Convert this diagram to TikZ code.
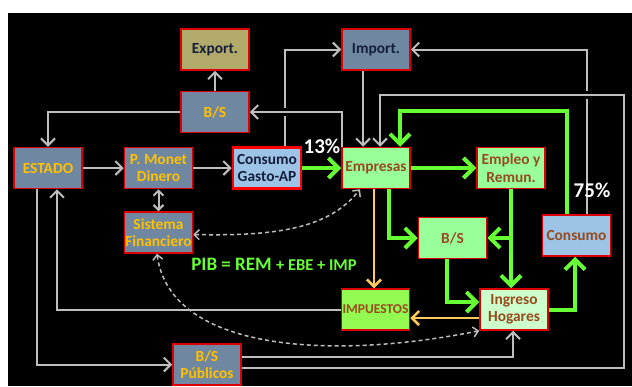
\documentclass[tikz,border=0pt]{standalone}
\usepackage{fontspec}
\setmainfont{Carlito}
\usepackage{xcolor}
\usepackage{tikz}
\usetikzlibrary{positioning,calc,arrows.meta,backgrounds}
\definecolor{GrisAzul}{RGB}{111,135,160}
\definecolor{Oliva}{RGB}{178,170,106}
\definecolor{AzulClaro}{RGB}{157,195,230}
\definecolor{VerdeClaro}{RGB}{153,255,153}
\definecolor{VerdeImp}{RGB}{146,250,80}
\definecolor{VerdePalido}{RGB}{204,255,204}
\definecolor{Amarillo}{RGB}{255,192,0}
\definecolor{Marron}{RGB}{150,75,30}
\definecolor{Marino}{RGB}{20,30,60}
\definecolor{GrisLinea}{RGB}{190,190,190}
\definecolor{VerdeFlujo}{RGB}{102,255,51}
\definecolor{Naranja}{RGB}{255,200,90}
\definecolor{BordeRojo}{RGB}{220,0,0}

\begin{document}
\begin{tikzpicture}[
        x=1pt, y=-1pt,
        % --- ESTILO COMUN ---
        common/.style={
            rectangle,
            draw=BordeRojo,
            line width=1.5pt,
            minimum width=68pt,
            minimum height=41pt,
            inner sep=0pt,
            align=center,
            font=\bfseries\fontsize{15.4}{17.5}\selectfont
        },
        % Sector publico (gris azul, texto amarillo)
        state_node/.style={common, fill=GrisAzul, text=Amarillo},
        % Comercio exterior
        trade_node/.style={common, fill=GrisAzul, text=Marino},
        export_node/.style={common, fill=Oliva, text=Marino},
        % Sector privado
        firm_node/.style={common, fill=VerdeClaro, text=Marron},
        tax_node/.style={common, fill=VerdeImp, text=Marron, font=\bfseries\fontsize{13.5}{15}\selectfont},
        home_node/.style={common, fill=VerdePalido, text=Marron},
        spend_node/.style={common, fill=AzulClaro, text=Marron},
        gov_spend_node/.style={common, fill=AzulClaro, text=Marino, draw=red, line width=2.5pt},
        % Flujos
        grey_flow/.style={draw=GrisLinea, line width=2pt, -{Straight Barb[length=7pt,width=14pt]}},
        green_flow/.style={draw=VerdeFlujo, line width=4pt, -{Straight Barb[length=10pt,width=20pt]}},
        orange_flow/.style={draw=Naranja, line width=2.5pt, -{Straight Barb[length=7pt,width=14pt]}},
        dash_flow/.style={draw=GrisLinea, line width=1.5pt, dash pattern=on 4pt off 3pt,
            {Straight Barb[length=5pt,width=10pt]}-{Straight Barb[length=5pt,width=10pt]}},
        bridge/.style={preaction={draw=black, line width=8pt, -}},
        pct_label/.style={text=white, font=\bfseries\fontsize{21}{21}\selectfont},
        pib_label/.style={text=VerdeFlujo, font=\bfseries\fontsize{19}{19}\selectfont}
    ]

        \useasboundingbox (0,0) rectangle (632,386);

        % --- CAJAS ---
        \node[export_node] (export) at (215,49.5) {Export.};
        \node[trade_node] (import) at (376,49.5) {Import.};
        \node[state_node] (bsup) at (215,112) {B/S};
        \node[state_node] (estado) at (48,168) {ESTADO};
        \node[state_node] (pmonet) at (158.5,168) {P. Monet\\Dinero};
        \node[gov_spend_node] (gastoap) at (267,168) {Consumo\\Gasto-AP};
        \node[firm_node] (empresas) at (376,168) {Empresas};
        \node[firm_node] (empleo) at (511,168) {Empleo y\\Remun.};
        \node[state_node] (sisfin) at (158.5,232.5) {Sistema\\Financiero};
        \node[firm_node] (bsmid) at (452.5,238) {B/S};
        \node[spend_node] (consumo) at (576.5,235.5) {Consumo};
        \node[tax_node] (impuestos) at (375.5,309.5) {IMPUESTOS};
        \node[home_node] (ingreso) at (514,309.5) {Ingreso\\Hogares};
        \node[state_node] (bspub) at (207,364.5) {B/S\\Públicos};

        % --- TEXTOS ---
        \node[pct_label] (pct13) at (322,146) {13\%};
        \node[pct_label] (pct75) at (592,190) {75\%};
        \node[pib_label] (pib) at (274,264) {PIB = REM {\fontsize{16.5}{16.5}\selectfont + EBE + IMP}};

        \begin{scope}[on background layer]
            % --- FONDO ---
            \fill[white] (0,0) rectangle (632,386);
            \fill[black] (8,13) rectangle (632,386);
            \coordinate (marco) at (624,95);

            % --- FLUJOS GRISES ---
            \draw[grey_flow] (bsup) -- (export);
            \draw[grey_flow] (bsup.west) -| (estado.north);
            \draw[grey_flow] (estado) -- (pmonet);
            \draw[grey_flow] (pmonet) -- (gastoap);
            \draw[grey_flow, {Straight Barb[length=5pt,width=10pt]}-{Straight Barb[length=5pt,width=10pt]}] (pmonet) -- (sisfin);
            \draw[grey_flow] ([xshift=18pt]gastoap.north) |- (import.west);
            \draw[grey_flow] ([xshift=-13pt]import.south) -- ([xshift=-13pt]empresas.north);
            \draw[grey_flow] ([xshift=10.5pt]consumo.north) |- (import.east);
            \draw[grey_flow] ([xshift=-11pt]estado.south) |- (bspub.west);
            \draw[grey_flow] (impuestos.west) -| ([xshift=9pt]estado.south);
            \draw[grey_flow] ([yshift=7.5pt]bspub.east) -| ([xshift=-1pt]ingreso.south);
            \draw[grey_flow, bridge] ([xshift=1pt]empresas.north west) |- (bsup.east);
            \draw[grey_flow, bridge] ([yshift=-3.5pt]bspub.east) -| (marco) -| ([xshift=4pt]empresas.north);

            % --- FLUJOS FINANCIEROS (discontinuos) ---
            \draw[dash_flow] ([yshift=-2pt]sisfin.east) .. controls +(87,2) and +(-30,38) .. ([xshift=-16pt]empresas.south);
            \draw[dash_flow] ([xshift=-1.5pt]sisfin.south) .. controls +(13,97) and +(-150,30) .. (ingreso.south west);

            % --- FLUJOS VERDES ---
            \draw[green_flow] (gastoap) -- (empresas);
            \draw[green_flow] (empresas) -- (empleo);
            \draw[green_flow] ([xshift=13pt]empresas.south) |- (bsmid.west);
            \draw[green_flow] (empleo.south) -- (empleo.south |- ingreso.north);
            \draw[green_flow] (empleo.south |- bsmid.east) -- (bsmid.east);
            \draw[green_flow] ([xshift=-5.5pt]bsmid.south) |- ([yshift=7.5pt]ingreso.west);
            \draw[green_flow] (ingreso.east) -| ([xshift=-1.5pt]consumo.south);
            \draw[green_flow] ([xshift=-9.5pt]consumo.north) -- ++(0,-103) -| ([xshift=24pt]empresas.north);

            % --- IMPUESTOS (naranja) ---
            \draw[orange_flow] ([xshift=-2pt]empresas.south) -- ([xshift=-2pt]empresas.south |- impuestos.north);
            \draw[orange_flow] ([yshift=-8.5pt]ingreso.west) -- ([yshift=-8.5pt]impuestos.east);
        \end{scope}

    \end{tikzpicture}
\end{document}
